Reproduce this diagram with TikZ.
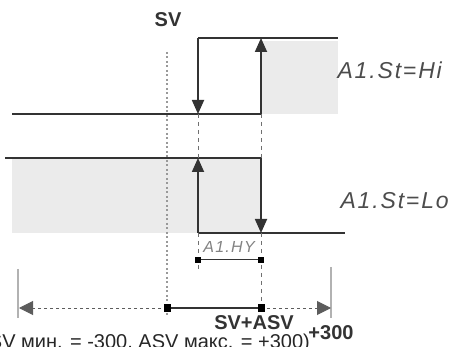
\documentclass[tikz,border=0pt]{standalone}
\usepackage{fontspec}
\setmainfont{Liberation Sans}
\newfontfamily\lcdfont[LetterSpace=8]{Liberation Sans}
\usetikzlibrary{arrows.meta}

\definecolor{lineclr}{gray}{0.2}
\definecolor{shadeclr}{gray}{0.92}
\definecolor{lcdclr}{gray}{0.3}

\tikzset{
    relay/.style={line width=1.8pt, draw=lineclr},
    relayarrow/.style={relay, -{Triangle[length=14pt, width=12pt]}},
    guide/.style={line width=1pt, draw=lineclr!70, dash pattern=on 4pt off 4pt},
    svline/.style={line width=1.8pt, draw=gray!80, dash pattern=on 2pt off 2.5pt},
    axisdots/.style={line width=1pt, draw=lineclr!80, dash pattern=on 3pt off 3pt,
        -{Triangle[length=14pt, width=14pt]}},
    endtick/.style={line width=1.4pt, draw=gray!60},
    marker/.style={fill=black, minimum size=6pt, inner sep=0pt, outer sep=0pt},
    lcdlabel/.style={font=\lcdfont\itshape\fontsize{23}{24}\selectfont, text=lcdclr},
    boldlabel/.style={font=\bfseries\fontsize{20}{22}\selectfont, text=black!80}
}

\begin{document}
\begin{tikzpicture}[x=1pt, y=-1pt]
    \useasboundingbox (0,0) rectangle (455,347);
    \clip (0,0) rectangle (455,347);

    % switching points
    \coordinate (hiL) at (12,114);
    \coordinate (hiA) at (198,114);
    \coordinate (hiB) at (261,114);
    \coordinate (hiC) at (198,38);
    \coordinate (hiD) at (261,38);
    \coordinate (hiR) at (338,38);
    \coordinate (loL) at (5,158);
    \coordinate (loA) at (198,158);
    \coordinate (loB) at (261,158);
    \coordinate (loC) at (198,233);
    \coordinate (loD) at (261,233);
    \coordinate (loR) at (345,233);

    % shaded output areas
    \fill[shadeclr] (261,41) rectangle (338,114);
    \fill[shadeclr] (12,158) rectangle (261,233);

    % SV line
    \coordinate (svtop) at (167,52);
    \coordinate (svbot) at (167,317);
    \draw[svline] (svtop) -- (svbot);
    \node[boldlabel] (sv) at (168,20) {SV};

    % A1.St = Hi
    \draw[relay] (hiL) -- (hiB);
    \draw[relay] (hiC) -- (hiR);
    \draw[relayarrow] (hiB) -- (hiD);
    \draw[relayarrow] (hiC) -- (hiA);
    \node[lcdlabel, anchor=west] (hilabel) at (334,70) {A1.St=Hi};

    % A1.St = Lo
    \draw[relay] (loL) -- (loB);
    \draw[relay] (loC) -- (loR);
    \draw[relayarrow] (loB) -- (loD);
    \draw[relayarrow] (loC) -- (loA);
    \node[lcdlabel, anchor=west] (lolabel) at (337,201) {A1.St=Lo};

    % guides
    \coordinate (hyL) at (198,260);
    \coordinate (hyR) at (261,260);
    \coordinate (guideL) at (198,272);
    \coordinate (axSV) at (167,308);
    \coordinate (axASV) at (261,308);
    \draw[guide] (hiA) -- (loA);
    \draw[guide] (hiB) -- (loB);
    \draw[guide] (loC) -- (guideL);
    \draw[guide] (loD) -- (axASV);

    % hysteresis
    \draw[line width=1pt, lineclr] (hyL) -- (hyR);
    \node[marker] (hyLm) at (hyL) {};
    \node[marker] (hyRm) at (hyR) {};
    \node[lcdlabel, font=\lcdfont\itshape\fontsize{16}{17}\selectfont, text=lcdclr!70] (hylabel) at (229,247) {A1.HY};

    % range axis
    \coordinate (axL) at (19,308);
    \coordinate (axR) at (331,308);
    \draw[endtick] (18,269) -- (18,318);
    \draw[endtick] (331,267) -- (331,318);
    \draw[axisdots] (axSV) -- (axL);
    \draw[axisdots] (axASV) -- (axR);
    \draw[line width=1.2pt, lineclr] (axSV) -- (axASV);
    \node[marker, minimum size=7pt] (axSVm) at (axSV) {};
    \node[marker, minimum size=7pt] (axASVm) at (axASV) {};

    \node[boldlabel] (svasv) at (254,323) {SV+ASV};
    \node[boldlabel] (plus) at (331,333) {+300};
    \node[anchor=base east, font=\fontsize{20}{22}\selectfont, text=black!85, inner sep=0pt] (range) at (310,348) {(ASV мин. = -300, ASV макс. = +300)};
\end{tikzpicture}
\end{document}
